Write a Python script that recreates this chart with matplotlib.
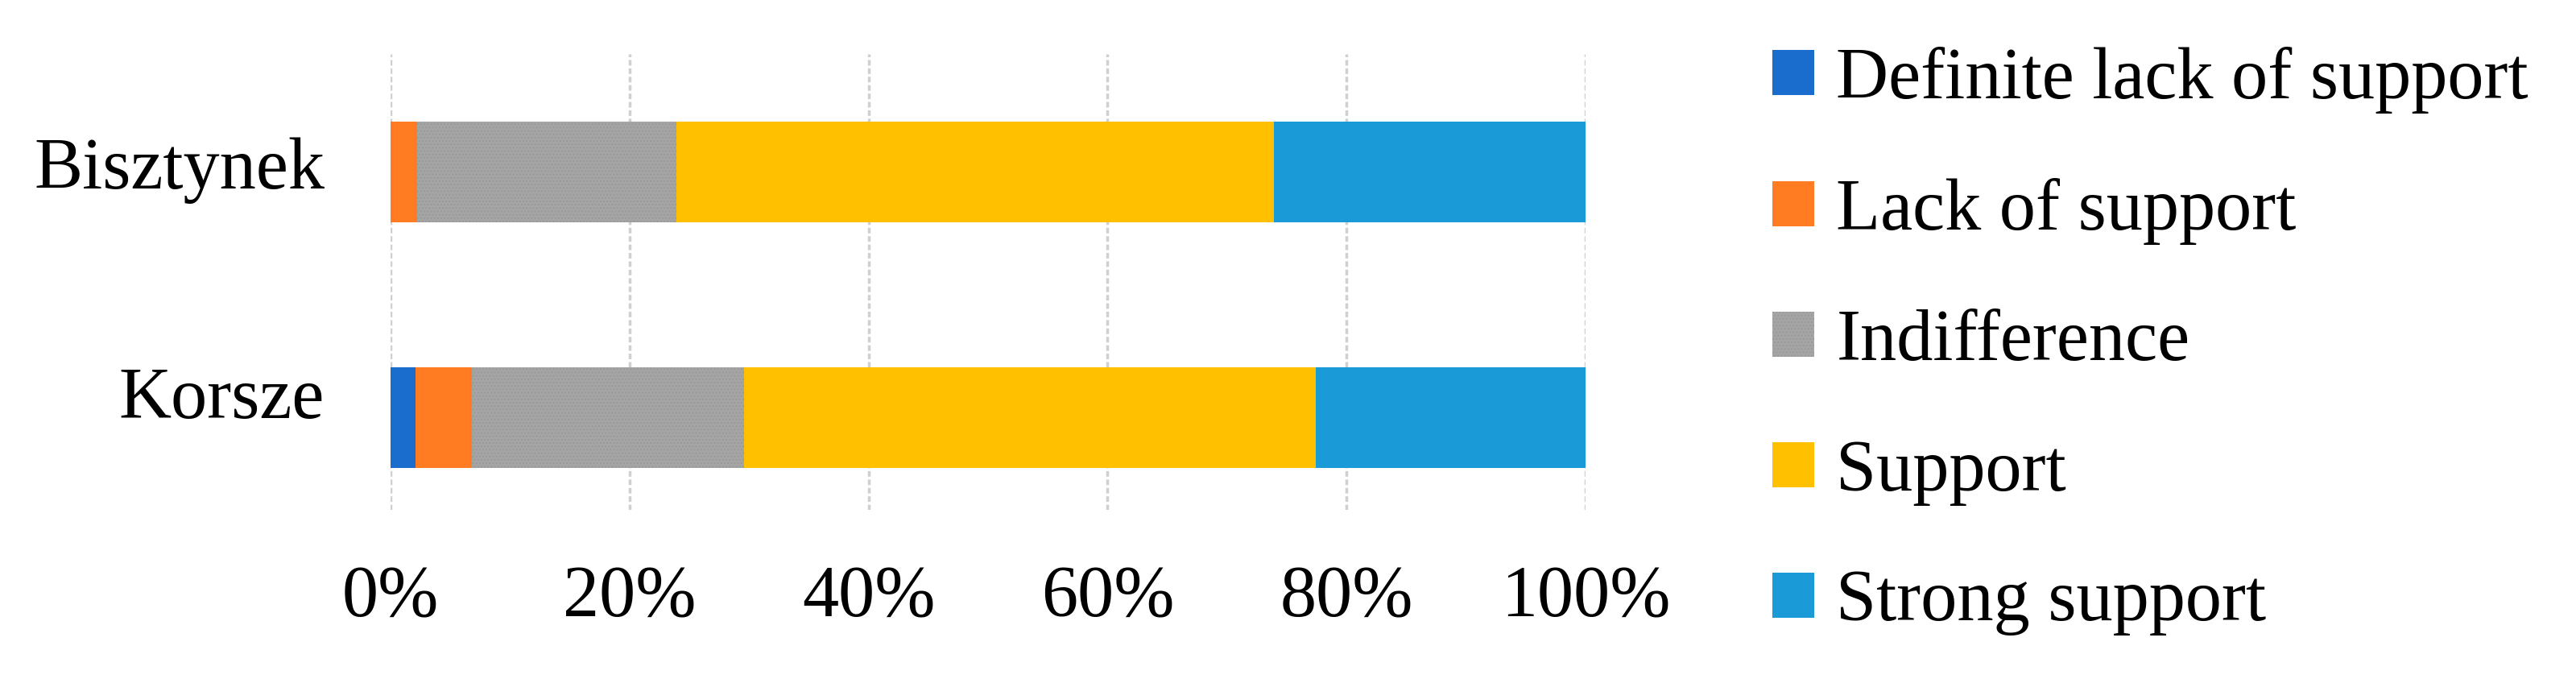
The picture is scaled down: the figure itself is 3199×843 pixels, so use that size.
import numpy as np
import matplotlib
matplotlib.use("Agg")
import matplotlib.pyplot as plt
from matplotlib.transforms import ScaledTranslation

# Survey answers per commune, in percent
towns = ["Korsze", "Bisztynek"]
categories = ["Definite lack of support", "Lack of support", "Indifference",
              "Support", "Strong support"]
definite_lack = [2.1, 0.0]
lack = [4.7, 2.2]
indifference = [22.8, 21.7]
support = [47.8, 50.0]
strong = [22.6, 26.1]
xticks = [0, 20, 40, 60, 80, 100]

colors = ["#1a6dcc", "#ff7c23", "#a5a5a5", "#ffc000", "#1a9ad6"]

plt.rcParams["font.family"] = ["Liberation Serif", "DejaVu Serif"]
FS = 65

fig = plt.figure(figsize=(31.99, 8.43), dpi=100)
ax = fig.add_axes([485 / 3199, 1 - 633 / 843, (1969 - 485) / 3199, (633 - 67) / 843])

y = np.arange(len(towns))
left = np.zeros(len(towns))
series = [definite_lack, lack, indifference, support, strong]
for vals, lab, col in zip(series, categories, colors):
    vals = np.array(vals)
    if lab == "Indifference":
        ax.barh(y, vals, left=left, height=0.41, color=col, label=lab,
                edgecolor="#999999", linewidth=0, hatch="....", zorder=3)
    else:
        ax.barh(y, vals, left=left, height=0.41, color=col, label=lab,
                linewidth=0, zorder=3)
    left += vals

ax.set_xlim(0, 100)
ax.set_ylim(-0.377, 1.479)
ax.set_xticks(xticks)
ax.set_xticklabels([f"{t}%" for t in xticks])
ax.set_yticks(y)
ax.set_yticklabels(towns)
ax.tick_params(axis="both", length=0, labelsize=FS)
ax.tick_params(axis="x", pad=50)
ax.tick_params(axis="y", pad=59)
ax.xaxis.grid(True, color="#d0d0d0", linewidth=2.5, linestyle=(0, (2, 1)), zorder=0)
for s in ax.spines.values():
    s.set_visible(False)

# the town names sit a little above the bar centres in the original
for lbl, dy in zip(ax.get_yticklabels(), [31, 11]):
    lbl.set_transform(lbl.get_transform() + ScaledTranslation(0, dy / 100, fig.dpi_scale_trans))

fig.legend(loc="upper left", bbox_to_anchor=(2201 / 3199, 0.931), frameon=False,
           fontsize=FS, handlelength=0.58, handleheight=0.58, handletextpad=0.3,
           labelspacing=0.88, borderpad=0, borderaxespad=0)

fig.savefig("out.png", dpi=100)
